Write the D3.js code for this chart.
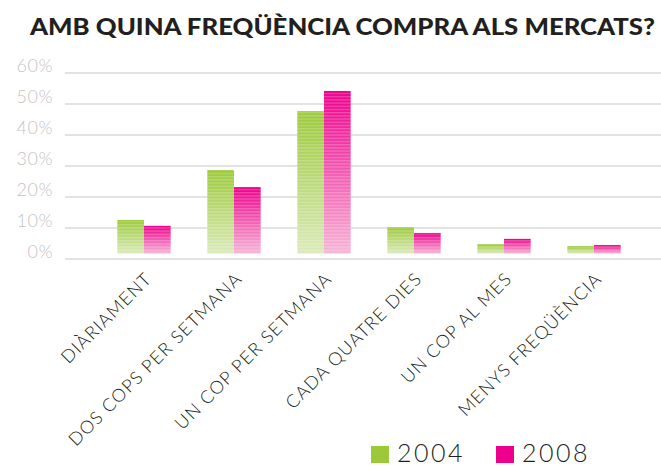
<!DOCTYPE html>
<html>
<head>
<meta charset="utf-8">
<script src="https://cdn.jsdelivr.net/npm/d3@7"></script>
<style>
  body { margin: 0; background: #fff; }
  svg { display: block; }
</style>
</head>
<body>
<svg id="chart" width="661" height="466"></svg>
<script>
// dades
var categories = ["DIÀRIAMENT", "DOS COPS PER SETMANA", "UN COP PER SETMANA",
                  "CADA QUATRE DIES", "UN COP AL MES", "MENYS FREQÜÈNCIA"];
var series = ["2004", "2008"];
var values2004 = [12.6, 28.7, 47.7, 10.3, 4.8, 4.2];
var values2008 = [10.7, 23.2, 54.2, 8.4, 6.5, 4.5];
var yTicks = [0, 10, 20, 30, 40, 50, 60];

var title = "AMB QUINA FREQÜÈNCIA COMPRA ALS MERCATS?";

var svg = d3.select("#chart");
var colors = { "2004": ["#9cc93a", "#dbeabb"], "2008": ["#ec008c", "#f7b6d7"] };
var legendColor = d3.scaleOrdinal(series, ["#9cc93a", "#ec008c"]);

var y = d3.scaleLinear().domain([0, 60]).range([259, 73]);
var x = d3.scaleBand().domain(categories).range([99, 639])
    .paddingInner(0.407).paddingOuter(0.2035);
var x1 = d3.scaleBand().domain(series).range([0, x.bandwidth()]);

var defs = svg.append("defs");
series.forEach(function (s) {
    var g = defs.append("linearGradient")
        .attr("id", "grad" + s)
        .attr("x1", 0).attr("y1", 0).attr("x2", 0).attr("y2", 1);
    g.append("stop").attr("offset", "0%").attr("stop-color", colors[s][0]);
    g.append("stop").attr("offset", "100%").attr("stop-color", colors[s][1]);
});
var pat = defs.append("pattern")
    .attr("id", "stripes")
    .attr("patternUnits", "userSpaceOnUse")
    .attr("width", 10).attr("height", 3.2);
pat.append("rect").attr("width", 10).attr("height", 1.3)
    .attr("fill", "#fff").attr("opacity", 0.22);

// titol
svg.append("text")
    .attr("x", 30).attr("y", 35)
    .attr("textLength", 625)
    .attr("lengthAdjust", "spacingAndGlyphs")
    .style("font-family", "Lato")
    .style("font-weight", 900)
    .style("font-size", "23px")
    .style("fill", "#231f20")
    .text(title);

// graella
var grid = svg.append("g");
grid.selectAll("line").data(yTicks).enter().append("line")
    .attr("x1", 65).attr("x2", 661)
    .attr("y1", d => y(d)).attr("y2", d => y(d))
    .attr("stroke", "#e3e3e3").attr("stroke-width", 2);
grid.selectAll("text").data(yTicks).enter().append("text")
    .attr("x", 53).attr("y", d => y(d) - 1)
    .attr("text-anchor", "end")
    .style("font-family", "Lato")
    .style("font-weight", 300)
    .style("font-size", "18px")
    .style("letter-spacing", "0.5px")
    .style("fill", "#c4c4c4")
    .text(d => d + "%");

// barres
var data = categories.map(function (c, i) {
    return { cat: c, vals: [{ k: "2004", v: values2004[i] }, { k: "2008", v: values2008[i] }] };
});
var groups = svg.selectAll(".grp").data(data).enter().append("g")
    .attr("class", "grp")
    .attr("transform", d => "translate(" + x(d.cat) + ",0)");
var bars = groups.selectAll("g").data(d => d.vals).enter().append("g");
bars.append("rect")
    .attr("x", d => x1(d.k))
    .attr("width", x1.bandwidth())
    .attr("y", d => y(d.v))
    .attr("height", d => y(0) - 5.5 - y(d.v))
    .attr("fill", d => "url(#grad" + d.k + ")");
bars.append("rect")
    .attr("x", d => x1(d.k))
    .attr("width", x1.bandwidth())
    .attr("y", d => y(d.v))
    .attr("height", d => y(0) - 5.5 - y(d.v))
    .attr("fill", "url(#stripes)");

// etiquetes eix x
svg.append("g").selectAll("text").data(categories).enter().append("text")
    .attr("transform", d => "translate(" + (x(d) + x.bandwidth() / 2 + 9) + ",280) rotate(-45)")
    .attr("text-anchor", "end")
    .style("font-family", "Lato")
    .style("font-weight", 300)
    .style("font-size", "18px")
    .style("letter-spacing", "1.1px")
    .style("fill", "#231f20")
    .text(d => d);

// llegenda
var legend = svg.append("g").selectAll("g").data(series).enter().append("g")
    .attr("transform", (d, i) => "translate(" + (371 + i * 125) + ",446)");
legend.append("rect")
    .attr("width", 18).attr("height", 17)
    .attr("fill", d => legendColor(d));
legend.append("text")
    .attr("x", 26).attr("y", 16)
    .style("font-family", "Lato")
    .style("font-weight", 300)
    .style("font-size", "25px")
    .style("letter-spacing", "2.5px")
    .style("fill", "#231f20")
    .text(d => d);
</script>
</body>
</html>
